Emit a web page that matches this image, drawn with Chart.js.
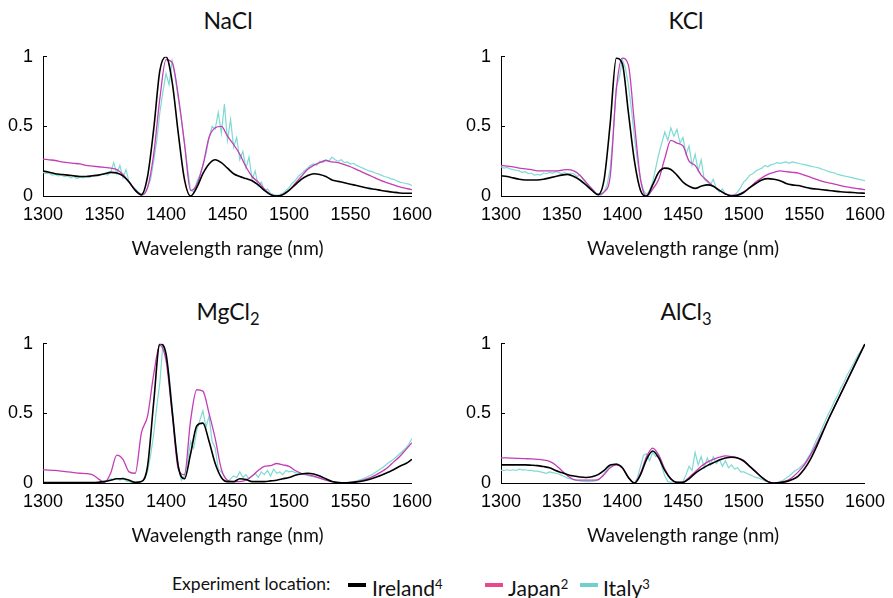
<!DOCTYPE html>
<html>
<head>
<meta charset="utf-8">
<script src="https://cdn.jsdelivr.net/npm/chart.js@4.4.1/dist/chart.umd.min.js"></script>
<style>
  body { margin: 0; background: #fff; width: 893px; height: 598px; position: relative; overflow: hidden; font-family: Lato, "Noto Sans", sans-serif; color: #111; }
  canvas { position: absolute; }
  .ttl { position: absolute; width: 370px; text-align: center; font-size: 23px; line-height: 1; }
  .ttl sub { font-size: 0.72em; vertical-align: -0.3em; line-height: 0; }
  .lg { position: absolute; line-height: 1; white-space: nowrap; }
  .lg sup { font-size: 0.62em; vertical-align: 0.55em; line-height: 0; }
  .sw { position: absolute; height: 4px; width: 18px; top: 583px; }
</style>
</head>
<body>
<div class="ttl" style="left:43px;top:9px">NaCl</div>
<div class="ttl" style="left:501px;top:9px">KCl</div>
<div class="ttl" style="left:43px;top:300px">MgCl<sub>2</sub></div>
<div class="ttl" style="left:501px;top:300px">AlCl<sub>3</sub></div>

<canvas id="chartNaCl" width="440" height="233" style="left:0;top:32px"></canvas>
<canvas id="chartKCl" width="435" height="233" style="left:458px;top:32px"></canvas>
<canvas id="chartMgCl2" width="440" height="233" style="left:0;top:319px"></canvas>
<canvas id="chartAlCl3" width="435" height="233" style="left:458px;top:319px"></canvas>

<div class="lg" style="left:172px;top:575px;font-size:17.5px">Experiment location:</div>
<div class="sw" style="left:348px;background:#000"></div>
<div class="lg" style="left:372px;top:577px;font-size:21px">Ireland<sup>4</sup></div>
<div class="sw" style="left:485px;background:#e8488c"></div>
<div class="lg" style="left:508px;top:577px;font-size:21px">Japan<sup>2</sup></div>
<div class="sw" style="left:580px;background:#6fd0d0"></div>
<div class="lg" style="left:603px;top:577px;font-size:21px">Italy<sup>3</sup></div>

<script>
// x grids: 5 nm for Ireland / Japan, 2.5 nm for the noisier Italy traces
const wavelengths = Array.from({ length: 61 }, (_, i) => 1300 + i * 5);
const wavelengthsFine = Array.from({ length: 121 }, (_, i) => 1300 + i * 2.5);
const xTicks = [1300, 1350, 1400, 1450, 1500, 1550, 1600];
const yTicks = [0, 0.5, 1];

// NaCl
const naclIreland = [0.18,0.17,0.16,0.155,0.15,0.145,0.14,0.14,0.145,0.15,0.16,0.17,0.165,0.145,0.10,0.04,0.01,0.14,0.48,0.90,1.0,0.82,0.45,0.12,0.0,0.06,0.16,0.23,0.26,0.24,0.20,0.16,0.14,0.125,0.11,0.08,0.04,0.01,0.0,0.01,0.04,0.08,0.12,0.145,0.16,0.155,0.14,0.115,0.105,0.095,0.085,0.075,0.065,0.055,0.048,0.04,0.033,0.027,0.022,0.02,0.02];
const naclJapan = [0.265,0.26,0.255,0.245,0.24,0.235,0.23,0.22,0.215,0.21,0.205,0.20,0.19,0.155,0.10,0.045,0.005,0.06,0.30,0.70,0.98,0.96,0.72,0.38,0.04,0.08,0.22,0.42,0.49,0.50,0.43,0.37,0.30,0.21,0.14,0.10,0.05,0.01,0.0,0.01,0.04,0.09,0.14,0.19,0.22,0.24,0.255,0.245,0.24,0.225,0.21,0.19,0.17,0.15,0.13,0.11,0.095,0.08,0.065,0.055,0.045];
const naclItaly = [
  0.17,0.16,0.165,0.15, 0.155,0.145,0.15,0.14, 0.145,0.13,0.14,0.125, 0.135,0.13,0.14,0.135,
  0.14,0.15,0.145,0.155, 0.16,0.15,0.17,0.24, 0.16,0.22,0.13,0.19, 0.10,0.07,0.05,0.03,
  0.01,0.02,0.06,0.12, 0.25,0.40,0.60,0.75, 0.88,0.80,0.97,0.85, 0.70,0.55,0.38,0.20,
  0.04,0.03,0.10,0.15, 0.22,0.30,0.42,0.50, 0.48,0.60,0.45,0.66, 0.40,0.55,0.35,0.42,
  0.26,0.32,0.20,0.28, 0.12,0.18,0.07,0.10, 0.04,0.05,0.02,0.01, 0.005,0.01,0.02,0.04,
  0.06,0.09,0.11,0.14, 0.16,0.18,0.20,0.22, 0.23,0.22,0.25,0.24, 0.26,0.25,0.28,0.26,
  0.25,0.26,0.24,0.245, 0.23,0.235,0.22,0.21, 0.20,0.19,0.18,0.175, 0.165,0.16,0.15,0.14,
  0.135,0.125,0.12,0.11, 0.10,0.095,0.09,0.085, 0.075];

// KCl
const kclIreland = [0.145,0.14,0.13,0.12,0.115,0.115,0.115,0.12,0.13,0.14,0.15,0.155,0.14,0.115,0.08,0.04,0.01,0.12,0.52,0.99,0.95,0.60,0.25,0.04,0.0,0.08,0.17,0.20,0.19,0.15,0.10,0.07,0.055,0.07,0.08,0.07,0.04,0.015,0.0,0.005,0.025,0.06,0.09,0.115,0.125,0.12,0.11,0.09,0.08,0.075,0.065,0.055,0.05,0.045,0.04,0.035,0.03,0.027,0.025,0.022,0.02];
const kclJapan = [0.22,0.215,0.21,0.20,0.195,0.19,0.18,0.18,0.18,0.18,0.185,0.19,0.18,0.15,0.10,0.05,0.01,0.03,0.14,0.76,0.99,0.94,0.52,0.12,0.0,0.05,0.12,0.27,0.40,0.38,0.36,0.25,0.22,0.15,0.11,0.07,0.04,0.015,0.005,0.01,0.03,0.06,0.10,0.13,0.155,0.17,0.18,0.175,0.17,0.165,0.15,0.135,0.12,0.105,0.095,0.085,0.075,0.065,0.058,0.052,0.045];
const kclItaly = [
  0.21,0.20,0.205,0.195, 0.19,0.185,0.18,0.17, 0.175,0.16,0.165,0.15, 0.155,0.15,0.165,0.16,
  0.17,0.165,0.175,0.17, 0.16,0.17,0.155,0.165, 0.16,0.14,0.15,0.12, 0.10,0.07,0.05,0.03,
  0.01,0.005,0.03,0.08, 0.20,0.45,0.78,0.85, 0.98,0.92,0.80,0.62, 0.42,0.25,0.12,0.04,
  0.01,0.04,0.10,0.20, 0.30,0.38,0.46,0.40, 0.49,0.43,0.48,0.38, 0.42,0.30,0.36,0.22,
  0.30,0.18,0.26,0.12, 0.10,0.08,0.12,0.05, 0.03,0.05,0.015,0.01, 0.005,0.01,0.03,0.06,
  0.10,0.12,0.15,0.16, 0.18,0.19,0.20,0.22, 0.21,0.225,0.23,0.24, 0.235,0.24,0.245,0.235,
  0.245,0.24,0.235,0.23, 0.225,0.22,0.215,0.21, 0.205,0.20,0.19,0.185, 0.175,0.17,0.165,0.155,
  0.15,0.145,0.14,0.135, 0.13,0.125,0.12,0.115, 0.11];

// MgCl2
const mgclIreland = [0.003,0.003,0.003,0.003,0.003,0.003,0.003,0.003,0.003,0.005,0.01,0.02,0.03,0.03,0.02,0.005,0.01,0.12,0.58,1.0,0.93,0.52,0.12,0.03,0.21,0.41,0.43,0.30,0.14,0.04,0.01,0.01,0.03,0.025,0.01,0.01,0.01,0.015,0.02,0.03,0.04,0.055,0.065,0.07,0.065,0.05,0.03,0.01,0.003,0.001,0.003,0.008,0.015,0.025,0.04,0.055,0.075,0.095,0.12,0.14,0.17];
const mgclJapan = [0.095,0.093,0.09,0.085,0.08,0.075,0.07,0.068,0.06,0.03,0.005,0.07,0.20,0.17,0.08,0.07,0.36,0.48,0.78,0.99,0.88,0.50,0.10,0.06,0.45,0.67,0.66,0.50,0.32,0.10,0.02,0.01,0.01,0.02,0.05,0.09,0.12,0.125,0.14,0.13,0.12,0.09,0.07,0.06,0.05,0.035,0.02,0.01,0.005,0.003,0.005,0.01,0.02,0.035,0.055,0.08,0.11,0.15,0.19,0.24,0.29];
const mgclItaly = [
  0,0,0,0, 0,0,0,0, 0,0,0,0, 0,0,0,0,
  0,0.003,0.005,0.01, 0.015,0.02,0.03,0.025, 0.035,0.02,0.04,0.015, 0.01,0.005,0.003,0.005,
  0.01,0.03,0.08,0.20, 0.35,0.55,0.72,1.0, 0.90,0.78,0.55,0.30, 0.12,0.02,0.05,0.15,
  0.30,0.25,0.38,0.45, 0.52,0.40,0.48,0.30, 0.25,0.10,0.08,0.05, 0.01,0.03,0.05,0.04,
  0.08,0.04,0.06,0.03, 0.05,0.07,0.04,0.08, 0.06,0.09,0.05,0.10, 0.07,0.08,0.06,0.09,
  0.08,0.085,0.075,0.07, 0.065,0.06,0.055,0.05, 0.045,0.04,0.035,0.03, 0.02,0.015,0.01,0.005,
  0.002,0.001,0.002,0.004, 0.006,0.01,0.015,0.022, 0.03,0.04,0.05,0.06, 0.075,0.09,0.105,0.12,
  0.14,0.155,0.17,0.19, 0.21,0.23,0.25,0.28, 0.32];

// AlCl3
const alclIreland = [0.13,0.13,0.13,0.13,0.13,0.128,0.125,0.118,0.11,0.09,0.075,0.06,0.05,0.043,0.04,0.045,0.06,0.09,0.13,0.135,0.11,0.04,0.0,0.06,0.17,0.23,0.18,0.09,0.03,0.005,0.005,0.03,0.07,0.10,0.125,0.145,0.165,0.18,0.185,0.18,0.16,0.12,0.08,0.04,0.01,0.0,0.003,0.01,0.025,0.05,0.10,0.17,0.26,0.36,0.46,0.55,0.64,0.73,0.82,0.91,1.0];
const alclJapan = [0.18,0.18,0.178,0.177,0.175,0.173,0.17,0.165,0.155,0.13,0.09,0.05,0.025,0.02,0.02,0.02,0.025,0.06,0.11,0.13,0.11,0.04,0.0,0.07,0.19,0.25,0.20,0.10,0.03,0.005,0.005,0.04,0.08,0.12,0.15,0.17,0.185,0.195,0.19,0.18,0.155,0.12,0.08,0.04,0.01,0.0,0.005,0.015,0.04,0.08,0.13,0.20,0.28,0.37,0.46,0.55,0.64,0.73,0.82,0.91,1.0];
const alclItaly = [
  0.09,0.09,0.095,0.09, 0.095,0.09,0.10,0.095, 0.095,0.09,0.09,0.085, 0.085,0.08,0.075,0.07,
  0.08,0.075,0.07,0.065, 0.055,0.045,0.035,0.03, 0.025,0.02,0.015,0.012, 0.01,0.01,0.012,0.015,
  0.02,0.04,0.07,0.10, 0.12,0.13,0.14,0.13, 0.11,0.08,0.04,0.01, 0.0,0.04,0.12,0.20,
  0.21,0.16,0.22,0.19, 0.20,0.12,0.05,0.01, 0.005,0.01,0.005,0.002, 0.01,0.06,0.12,0.09,
  0.22,0.13,0.19,0.11, 0.18,0.13,0.19,0.14, 0.17,0.12,0.16,0.11, 0.13,0.10,0.11,0.08,
  0.08,0.07,0.06,0.05, 0.04,0.035,0.025,0.015, 0.008,0.003,0.0,0.002, 0.01,0.02,0.035,0.05,
  0.07,0.09,0.10,0.12, 0.14,0.175,0.21,0.26, 0.31,0.35,0.40,0.45, 0.50,0.54,0.59,0.63,
  0.68,0.72,0.77,0.81, 0.85,0.89,0.93,0.96, 0.99];

function toPoints(xs, ys) {
    return xs.map((x, i) => ({ x: x, y: ys[i] }));
}

function drawPanel(canvasId, ireland, japan, italy, padRight) {
    let ctx = document.getElementById(canvasId).getContext("2d");
    new Chart(ctx, {
        type: "line",
        data: {
            datasets: [
                { label: "Ireland", data: toPoints(wavelengths, ireland), borderColor: "#000000", borderWidth: 1.6, cubicInterpolationMode: "monotone" },
                { label: "Japan", data: toPoints(wavelengths, japan), borderColor: "#c43cb6", borderWidth: 1.3, cubicInterpolationMode: "monotone" },
                { label: "Italy", data: toPoints(wavelengthsFine, italy), borderColor: "#7fdad2", borderWidth: 1.2 }
            ]
        },
        options: {
            responsive: false,
            animation: false,
            layout: { padding: { top: 9, right: padRight, bottom: 0, left: 0 } },
            elements: { point: { radius: 0 }, line: { tension: 0, fill: false } },
            plugins: { legend: { display: false }, tooltip: { enabled: false } },
            scales: {
                x: {
                    type: "linear", min: 1300, max: 1600,
                    afterFit: s => { s.height = 69; },
                    afterBuildTicks: s => { s.ticks = xTicks.map(v => ({ value: v })); },
                    ticks: { padding: 8, color: "#000", maxRotation: 0, autoSkip: false,
                             font: { family: "Liberation Sans", size: 18 }, callback: v => String(v) },
                    grid: { drawOnChartArea: false, drawTicks: false },
                    border: { display: true, color: "#000", width: 1 },
                    title: { display: true, text: "Wavelength range (nm)", color: "#111",
                             font: { family: "Lato", size: 19 }, padding: { top: 0, bottom: 5 } }
                },
                y: {
                    min: 0, max: 1,
                    afterFit: s => { s.width = 43; },
                    afterBuildTicks: s => { s.ticks = yTicks.map(v => ({ value: v })); },
                    ticks: { padding: 14, color: "#000",
                             font: { family: "Liberation Sans", size: 18 }, callback: v => String(v) },
                    grid: { drawOnChartArea: false, drawTicks: true, tickLength: -4, color: "#000" },
                    border: { display: true, color: "#000", width: 1 }
                }
            }
        }
    });
}

drawPanel("chartNaCl", naclIreland, naclJapan, naclItaly, 27);
drawPanel("chartKCl", kclIreland, kclJapan, kclItaly, 22);
drawPanel("chartMgCl2", mgclIreland, mgclJapan, mgclItaly, 27);
drawPanel("chartAlCl3", alclIreland, alclJapan, alclItaly, 22);
</script>
</body>
</html>
